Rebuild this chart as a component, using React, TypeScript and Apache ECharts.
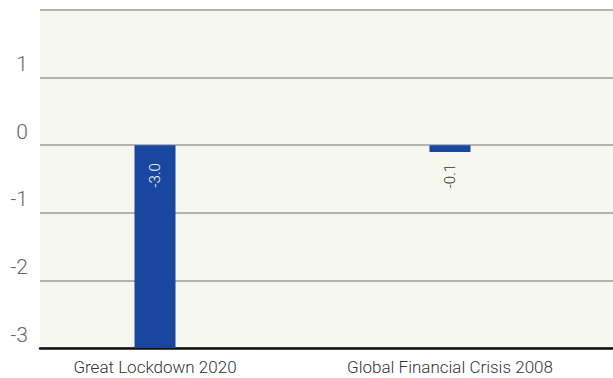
import React, { useEffect, useRef } from "react";
import * as echarts from "echarts";

const categories = ["Great Lockdown 2020", "Global Financial Crisis 2008"];
const values = [-3.0, -0.1];
const yMin = -3;
const yMax = 2;

export default function App() {
  const ref = useRef<HTMLDivElement>(null);
  useEffect(() => {
    const chart = echarts.init(ref.current!, null, { renderer: "svg" });
    const font = "Roboto, 'Noto Sans', sans-serif";
    chart.setOption({
      animation: false,
      grid: [
        { left: 40, right: 0, top: 10, bottom: 30, show: true, backgroundColor: "#f6f7ee", borderWidth: 0 },
        { left: 7.5, right: 15.5, top: 10, bottom: 30 },
      ],
      xAxis: [
        {
          gridIndex: 0,
          type: "category",
          data: ["", ""],
          axisLine: { show: true, onZero: false, lineStyle: { color: "#111", width: 2.5 } },
          axisTick: { show: false },
          axisLabel: { show: false },
        },
        {
          gridIndex: 1,
          type: "category",
          data: categories,
          axisLine: { show: false, onZero: false },
          axisTick: { show: false },
          axisLabel: { color: "#333", fontSize: 17, fontWeight: 300, fontFamily: font, margin: 10 },
        },
      ],
      yAxis: [
        {
          gridIndex: 0,
          type: "value",
          min: yMin,
          max: yMax,
          interval: 1,
          axisLine: { show: false },
          axisTick: { show: false },
          splitLine: { lineStyle: { color: "#b3b3b3", width: 2 } },
          axisLabel: {
            showMaxLabel: false,
            color: "#666",
            fontSize: 21,
            fontWeight: 300,
            fontFamily: font,
            margin: 12,
            verticalAlign: "bottom",
            padding: [0, 0, 3, 0],
          },
        },
        {
          gridIndex: 1,
          type: "value",
          min: yMin,
          max: yMax,
          interval: 1,
          show: false,
          splitLine: { show: false },
        },
      ],
      series: [
        {
          type: "bar",
          xAxisIndex: 1,
          yAxisIndex: 1,
          barWidth: 41,
          data: [
            {
              value: values[0],
              label: {
                show: true,
                position: "insideTop",
                rotate: 90,
                align: "right",
                verticalAlign: "middle",
                distance: 18,
                color: "#fff",
                fontSize: 15,
                fontWeight: 300,
                fontFamily: font,
                formatter: (p: any) => p.value.toFixed(1),
              },
            },
            {
              value: values[1],
              label: {
                show: true,
                position: "bottom",
                rotate: 90,
                align: "right",
                verticalAlign: "middle",
                distance: 12,
                color: "#333",
                fontSize: 15,
                fontWeight: 300,
                fontFamily: font,
                formatter: (p: any) => p.value.toFixed(1),
              },
            },
          ],
          itemStyle: { color: "#19469e" },
        },
      ],
    });
    return () => chart.dispose();
  }, []);
  return <div ref={ref} style={{ width: 613, height: 378, position: "absolute", left: 0, top: 0 }} />;
}
